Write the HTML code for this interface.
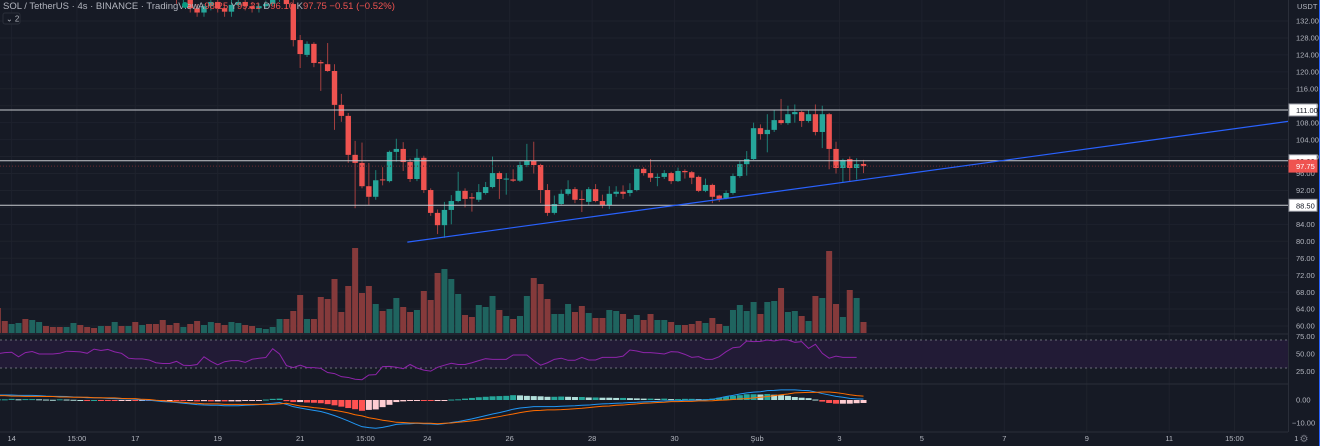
<!DOCTYPE html>
<html><head><meta charset="utf-8">
<style>
html,body{margin:0;padding:0;background:#161a25;overflow:hidden}
svg{display:block}
text{font-family:"Liberation Sans",sans-serif}
</style></head>
<body>
<svg id="chart" width="1320" height="446" viewBox="0 0 1320 446" xmlns="http://www.w3.org/2000/svg">
<rect x="0" y="0" width="1320" height="446" fill="#161a25"/>
<g id="grid"></g>
<g id="volume"></g>
<g id="candles"></g>
<g id="levels"></g>
<g id="rsi"></g>
<g id="macd"></g>
<g id="axes"></g>
<g>
<text x="3" y="9" font-size="9.5" fill="#b2b5be">SOL / TetherUS · 4s · BINANCE · TradingView</text>
<circle cx="185" cy="5" r="3" fill="#089981"/>
<text x="198" y="9" font-size="9.5" fill="#ef5350"><tspan fill="#b2b5be">A</tspan>98.25 <tspan fill="#b2b5be">Y</tspan>99.21 <tspan fill="#b2b5be">D</tspan>96.10 <tspan fill="#b2b5be">K</tspan>97.75 −0.51 (−0.52%)</text>
<g>
<rect x="3" y="13" width="17" height="11" rx="2" fill="#161a25" stroke="#2a2e39"/>
<text x="6" y="21.5" font-size="8" fill="#b2b5be">⌄ 2</text>
</g>
</g>
</svg>
<script>
// ---- data ----
const opens = [150,149,147,148,149,147,148,149,148,147.5,147,148,149,148,147.5,147,148,147,148.5,147.5,148,146,147,145,143,141,139,137,138,135,134,135.5,136.5,135,134.2,135.8,136.5,135.5,135,135.5,136,137,138,
136,127.5,124.0,126.6,122.3,121.8,120.2,112.2,109.6,100.4,98.5,93.0,90.5,94.6,94.2,101.1,101.8,98.7,94.7,99.7,92.1,86.7,83.8,87.4,89.5,91.9,90.4,89.8,91.4,92.8,96.1,94.7,94.6,94.3,98.0,99.0,98.0,92.1,86.7,88.8,91.2,92.3,90.0,89.3,92.3,89.5,88.5,91.2,91.7,91.4,92.1,97.1,96.1,95.1,95.2,96.1,94.2,96.6,96.3,95.2,91.9,93.3,90.8,90.2,91.4,95.4,98.2,99.4,106.7,105.3,106.3,108.6,107.9,110.0,110.5,108.4,110.0,105.8,110.0,101.8,97.3,99.4,97.3,98.25];
const closes = [149,147,148,149,147,148,149,148,147.5,147,148,149,148,147.5,147,148,147,148.5,147.5,148,146,147,145,143,141,140,137,138,135,134,135.5,136.5,135,134.2,135.8,136.5,135.5,135,135.5,136,137,138,136,
127.5,124.2,126.6,122.1,122.0,120.2,112.2,109.6,100.4,98.5,93.0,90.5,94.4,94.4,101.1,101.8,98.7,94.7,99.7,92.1,86.7,83.8,87.4,89.5,91.9,90.0,90.1,91.6,92.8,96.1,94.7,94.8,94.3,98.0,99.0,98.0,92.1,86.7,88.8,91.2,92.3,89.8,89.8,92.3,89.5,88.5,91.2,91.7,91.2,92.1,97.1,96.1,95.0,95.2,96.1,94.2,96.6,96.3,95.0,91.9,93.3,90.5,90.0,91.4,95.4,98.2,99.4,106.7,105.3,106.3,108.6,107.9,110.0,110.5,108.4,110.0,105.8,110.0,101.8,97.3,99.2,97.3,98.2,97.75];
const highs = [151,150,149,150,150,149,150,150,149,148.5,149,150,150,149,148.5,149,149,149.5,149.5,149,149,148,148,146,144,142,140,139,139,136,136,137,137.5,136,137,137.2,137.5,136.5,136.2,136.8,137.8,138.8,138.5,
137,128.7,127.2,127.0,122.8,126.8,121.8,114.8,110.3,103.7,103.3,98.5,96.8,97.5,101.4,104.2,103.4,99.5,101.8,100.2,92.5,87.5,89.3,90.9,96.4,92.5,91.4,93.5,94.0,100.0,96.5,96.1,97.0,98.8,103.0,103.5,98.3,93.5,90.8,92.2,94.4,92.8,92.0,92.8,93.5,91.0,93.0,93.0,93.2,93.7,97.1,97.5,99.4,96.0,96.8,96.4,97.4,97.0,96.6,95.5,94.8,93.6,91.0,92.0,96.0,99.0,101.3,108.0,107.6,110.0,111.0,113.6,112.0,112.3,110.8,111.0,112.3,112.0,110.3,103.5,99.5,100.0,99.6,99.21];
const lows = [148,146,146,147,146,146,147,147,147,146.5,146,147,147,147,146.5,146,146,146,147,146.5,145,145,144,142,140,139,136,136,134,133,133,134.5,134,133,133,135,134.5,134,134,135,135.5,136.5,135,
126.0,120.9,123.5,121.1,115.5,120.0,106.3,108.2,98.5,87.8,92.5,88.6,89.8,93.2,93.9,98.8,96.6,94.0,94.2,91.4,86.0,81.7,80.8,84.0,89.2,88.0,87.0,89.3,91.0,92.5,90.0,91.0,94.0,94.0,97.5,96.0,89.0,86.0,86.3,88.5,90.8,89.0,86.9,88.6,89.2,87.8,87.6,90.5,90.0,90.6,91.8,95.5,94.0,93.0,94.7,93.5,94.0,94.8,93.5,91.6,91.6,89.0,89.3,89.9,91.0,95.0,95.5,99.2,104.0,101.0,105.8,107.5,107.5,108.0,107.0,108.0,105.0,102.0,97.0,96.0,94.0,94.0,94.6,96.10];
const volumes = [25,12,9,10,14,13,11,7,6,6,6,10,8,6,5,7,7,11,7,7,11,8,9,9,13,8,10,6,9,12,8,11,10,8,11,10,8,7,5,4,6,14,14,22,38,14,14,36,34,54,21,47,85,40,47,29,22,24,35,26,21,23,42,33,60,
64,54,39,18,16,28,26,37,23,17,14,17,37,55,49,34,19,19,29,21,27,20,15,15,23,22,19,14,18,13,19,13,13,11,8,8,9,12,10,15,9,7,23,28,22,31,19,31,32,45,21,22,17,12,37,35,82,29,16,43,35,11];
const rsiVals = [50.5,52,52.5,46,52,53.5,50,50,50,51,54,53.5,53,51,57,55,56.5,53,51,44,43,43,41.5,37.5,36.5,36.5,39.5,34,33.5,35,46,39.5,34.5,39,40.5,40.5,38,42.5,44,45,57.5,50,33.5,30.5,34,30.5,30.5,29.5,23.5,22,17.6,16.5,14,13.3,20,20.5,32,32.4,31,29,35,30,27,25.5,
31,34,36.7,35,35,37.5,40.5,43.3,42.4,42.4,42.4,48.6,48.6,48.6,40.5,34,37.5,42.4,44,41,41,45.2,41.4,41.4,45.2,45.2,45.2,47,55.7,54.3,52,52,51,50,53.3,52.9,49.5,45.2,46.2,42.4,42.4,46.2,53.3,59,60,68.6,67.6,68,70,68.6,70.5,70,66.7,67.6,58,63.8,51,44,47,45.2,45.2,45.2];
const macdVals = [2.2,2.2,2.2,2.0,2.0,2.0,1.9,1.7,1.6,1.6,1.5,1.3,1.2,1.0,1.0,0.9,0.7,0.6,0.5,0.5,0.3,0.0,-0.1,-0.4,-0.7,-0.8,-1.1,-1.4,-1.7,-2.0,-2.2,-2.3,-2.3,-2.5,-2.5,-2.5,-2.3,-2.2,-2.0,-1.7,-1.4,-1.1,-1.9,-2.9,-3.5,-4.0,-4.5,-5.0,-5.8,-6.8,-7.9,-9.1,-10.4,-11.6,-12.0,-12.3,-11.9,-11.3,-10.6,-10.4,-10.3,-10.1,-10.3,-10.4,
-10.6,-10.3,-9.8,-9.4,-8.8,-8.2,-7.5,-6.8,-6.1,-5.5,-4.8,-4.0,-3.5,-3.2,-2.9,-2.9,-2.9,-2.9,-2.7,-2.6,-2.5,-2.3,-2.2,-1.9,-1.7,-1.6,-1.4,-1.3,-1.1,-1.0,-0.8,-0.7,-0.6,-0.4,-0.3,-0.3,-0.1,-0.1,0.0,0.0,0.3,0.9,1.5,2.0,2.6,3.1,3.4,3.6,4.1,4.2,4.4,4.4,4.4,4.2,4.1,3.5,2.8,2.2,1.6,1.2,0.7,0.5,0.4];
const signalVals = [1.9,1.9,1.7,1.7,1.6,1.6,1.6,1.5,1.5,1.3,1.3,1.2,1.2,1.2,1.0,1.0,0.9,0.9,0.7,0.6,0.6,0.3,0.2,-0.1,-0.3,-0.6,-0.8,-1.0,-1.3,-1.4,-1.7,-1.7,-1.7,-1.9,-1.9,-1.9,-1.9,-1.9,-1.9,-1.9,-1.9,-1.7,-1.4,-2.0,-2.6,-2.9,-3.3,-3.6,-4.0,-4.5,-5.0,-5.6,-6.4,-6.9,-7.7,-8.2,-8.8,-9.2,-9.7,-9.8,-10.0,-10.0,-10.1,-10.1,
-10.3,-10.1,-10.0,-9.7,-9.4,-9.1,-8.7,-8.2,-7.7,-7.2,-6.6,-6.1,-5.5,-5.0,-4.6,-4.5,-4.3,-4.3,-4.2,-4.0,-3.8,-3.6,-3.3,-3.0,-2.7,-2.6,-2.3,-2.2,-1.9,-1.7,-1.4,-1.3,-1.1,-1.0,-0.7,-0.7,-0.6,-0.6,-0.4,-0.4,-0.3,-0.1,0.0,0.2,0.5,0.6,0.9,1.2,1.5,1.9,2.3,2.6,3.1,3.2,3.3,3.3,3.5,3.5,3.2,2.8,2.3,1.9,1.7];
const priceTicks = [132,128,124,120,116,112,108,104,100,96,92,88,84,80,76,72,68,64,60];
const levelPrices = [111, 99, 88.5];
const lastPrice = 97.75;
const trendStart = {idx: 59.6, price: 79.8};
const trendEnd = {idx: 182.7, price: 108.3};
const rsiTicks = [75, 50, 25];
const macdTicks = [0, -10];
const timeLabels = ["14","15:00","17","19","21","15:00","24","26","28","30","Şub","3","5","7","9","11","15:00","1"];
const timeIdx = [2,11.5,20,32,44,53.5,62.5,74.5,86.5,98.5,110.5,122.5,134.5,146.5,158.5,170.5,180,189];

// ---- scales ----
const NS = "http://www.w3.org/2000/svg";
const N = opens.length;
const STEP = 6.87, LASTX = 863.5;
const xOf = i => LASTX - (N - 1 - i) * STEP;
const yP = p => 21 + (132 - p) * 4.236;
const yV = v => 333 - v * 1.0;
const yR = r => 354 - (r - 50) * 0.7;
const yM = m => 400 - m * 2.3;
const PLOT_R = 1288;
function mk(tag, attrs, parent){const e=document.createElementNS(NS,tag);for(const k in attrs)e.setAttribute(k,attrs[k]);parent.appendChild(e);return e;}
const g = id => document.getElementById(id);

// grid
timeIdx.forEach((t,i)=>{
  const ln = mk('line',{x1:xOf(t),x2:xOf(t),y1:0,y2:432,stroke:'#1e222d','stroke-width':1},g('grid'));
  
  
});
priceTicks.forEach(p=>{
  const ln = mk('line',{x1:0,x2:PLOT_R,y1:yP(p),y2:yP(p),stroke:'#1e222d','stroke-width':1},g('grid'));
  
  
});

// volume
for(let i=0;i<N;i++){
  const up = closes[i] >= opens[i];
  const r = mk('rect',{x:xOf(i)-3,y:yV(volumes[i]),width:6,height:volumes[i]*1.0,fill:up?'#1f645f':'#853a3b'},g('volume'));
  
  
}

// candles
const cg = g('candles');
const clip = mk('clipPath',{id:'mainclip'},cg); mk('rect',{x:0,y:0,width:PLOT_R,height:333},clip);
cg.setAttribute('clip-path','url(#mainclip)');
for(let i=0;i<N;i++){
  const up = closes[i] >= opens[i];
  const col = up ? '#26a69a' : '#ef5350';
  const x = xOf(i);
  const w = mk('line',{x1:x,x2:x,y1:yP(highs[i]),y2:yP(lows[i]),stroke:up?'#1f7f76':'#a33f3f','stroke-width':1},cg);
  
  
  const top = Math.min(yP(opens[i]),yP(closes[i]));
  const h = Math.max(1,Math.abs(yP(opens[i])-yP(closes[i])));
  const b = mk('rect',{x:x-2.7,y:top,width:5.4,height:h,fill:col},cg);
  
  
}

// levels
const lv = g('levels');
levelPrices.forEach(p=>{
  const l = mk('line',{x1:0,x2:PLOT_R,y1:yP(p),y2:yP(p),stroke:'#c7c9cf','stroke-width':1},lv);
  
  
});
const lp = mk('line',{x1:0,x2:PLOT_R,y1:yP(lastPrice),y2:yP(lastPrice),stroke:'#6b2a30','stroke-width':1,'stroke-dasharray':'1 2'},lv);


const tl = mk('line',{x1:xOf(trendStart.idx),y1:yP(trendStart.price),x2:PLOT_R,y2:yP(trendEnd.price),stroke:'#2962ff','stroke-width':1.2},lv);



// pane separators
[[334,'#2a2e39'],[384,'#2a2e39'],[432,'#2a2e39']].forEach(([y,c])=>{
  const s = mk('line',{x1:0,x2:1320,y1:y,y2:y,stroke:c,'stroke-width':1},g('axes'));
  
  
});

// RSI
const rg = g('rsi');
const band = mk('rect',{x:0,y:yR(70),width:PLOT_R,height:yR(30)-yR(70),fill:'#221b36'},rg);


[70,30].forEach(v=>{
  const l = mk('line',{x1:0,x2:PLOT_R,y1:yR(v),y2:yR(v),stroke:'#6a6d78','stroke-width':1,'stroke-dasharray':'2 3'},rg);
  
  
});
const rp = mk('polyline',{points:rsiVals.map((v,i)=>xOf(i)+','+yR(v)).join(' '),fill:'none',stroke:'#8e24aa','stroke-width':1},rg);



// MACD
const mg = g('macd');
for(let i=0;i<N;i++){
  const h = macdVals[i]-signalVals[i];
  const prev = i>0 ? macdVals[i-1]-signalVals[i-1] : h;
  const col = h>=0 ? (h>=prev?'#26a69a':'#b2dfdb') : (h<prev?'#ff5252':'#ffcdd2');
  const y0 = yM(0), y1 = yM(h);
  const r = mk('rect',{x:xOf(i)-3,y:Math.min(y0,y1),width:6,height:Math.max(1,Math.abs(y1-y0)),fill:col},mg);
  
  
}
const ml = mk('polyline',{points:macdVals.map((v,i)=>xOf(i)+','+yM(v)).join(' '),fill:'none',stroke:'#2196f3','stroke-width':1},mg);


const sl = mk('polyline',{points:signalVals.map((v,i)=>xOf(i)+','+yM(v)).join(' '),fill:'none',stroke:'#ff6d00','stroke-width':1},mg);



// axes
const ax = g('axes');
const axbg = mk('rect',{x:PLOT_R,y:0,width:32,height:446,fill:'#161a25'},ax);


mk('line',{x1:PLOT_R+0.5,x2:PLOT_R+0.5,y1:0,y2:432,stroke:'#2a2e39'},ax);
mk('line',{x1:1319.5,x2:1319.5,y1:0,y2:446,stroke:'#2962ff','stroke-width':1},ax);
const usd = mk('text',{x:1297,y:9,'font-size':7.5,fill:'#b2b5be'},ax); usd.textContent='USDT';


priceTicks.forEach(p=>{
  const t = mk('text',{x:1296,y:yP(p)+2.7,'font-size':7.5,fill:'#b2b5be'},ax);
  t.textContent = p.toFixed(2);
  
  
});
function tag(p,bg,fg,name){
  const y = yP(p);
  const r = mk('rect',{x:PLOT_R+1,y:y-6,width:28,height:12,fill:bg,stroke:bg==='#ffffff'?'#9598a1':bg},ax);
  
  
  const t = mk('text',{x:1296,y:y+3,'font-size':7.5,fill:fg},ax);
  t.textContent = p.toFixed(2);
  
  
}
levelPrices.forEach(p=>tag(p,'#ffffff','#131722','level'));
tag(lastPrice,'#ef5350','#ffffff','last-price');
rsiTicks.forEach(v=>{
  const t = mk('text',{x:1296,y:yR(v)+2.7,'font-size':7.5,fill:'#b2b5be'},ax);
  t.textContent = v.toFixed(2);
  
  
});
macdTicks.forEach(v=>{
  const t = mk('text',{x:v<0?1292:1296,y:yM(v)+2.7,'font-size':7.5,fill:'#b2b5be'},ax);
  t.textContent = (v<0?'−':'')+Math.abs(v).toFixed(2);
  
  
});
timeLabels.forEach((s,i)=>{
  const t = mk('text',{x:xOf(timeIdx[i]),y:441,'font-size':7.5,fill:'#b2b5be','text-anchor':'middle'},ax);
  t.textContent = s;
  
  
});
const gear = mk('text',{x:1304,y:442,'font-size':10,fill:'#787b86','text-anchor':'middle'},ax);
gear.textContent='⚙';


</script>
</body></html>
